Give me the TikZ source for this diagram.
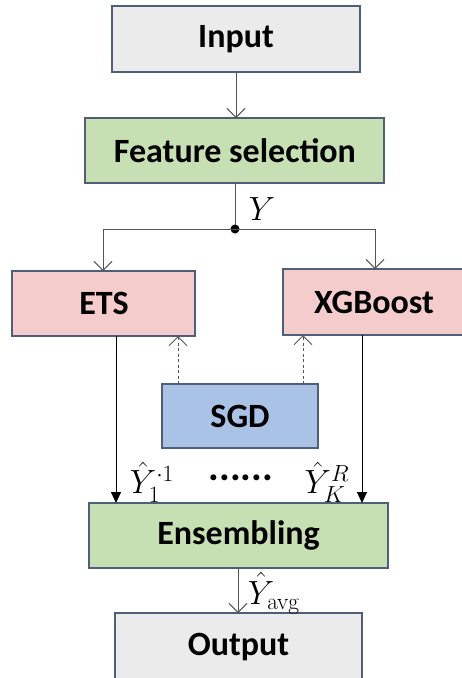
\documentclass[tikz,border=0pt]{standalone}
\usepackage[no-math]{fontspec}
\setmainfont{Carlito}
\usetikzlibrary{arrows.meta}
\definecolor{edge}{HTML}{4F5F7A}
\definecolor{wire}{HTML}{555555}
\definecolor{greyfill}{HTML}{EBEBEB}
\definecolor{greenfill}{HTML}{C6E0B4}
\definecolor{pinkfill}{HTML}{F4CCCC}
\definecolor{bluefill}{HTML}{A9C2E6}
\tikzset{
  block/.style={draw=edge, line width=1.2pt},
  title/.style={font=\fontsize{34}{38}\selectfont\bfseries, inner sep=0pt},
  flow/.style={draw=wire, line width=0.9pt, -{Straight Barb[length=9pt,width=18pt,line width=0.9pt]}},
  feed/.style={draw=black, line width=0.9pt, -{Triangle[length=11pt,width=10pt]}},
  tune/.style={draw=wire, line width=0.9pt, dashed, dash pattern=on 3pt off 2.5pt, -{Straight Barb[length=9pt,width=18pt,line width=0.9pt]}},
  lbl/.style={font=\fontsize{24}{26}\selectfont, inner sep=0pt, scale=1.35}
}
\begin{document}
\begin{tikzpicture}[x=1pt,y=-1pt]
\useasboundingbox (0,0) rectangle (462,678);
% boxes, given by their corners
\path[block, fill=greyfill]  (112,6) rectangle (360,72);
\node[title] (in) at (236,39) {Input};
\path[block, fill=greenfill] (85,118) rectangle (384,183);
\node[title] (fs) at (235,150.5) {Feature selection};
\path[block, fill=pinkfill]  (12,271) rectangle (195,336);
\node[title] (ets) at (104,303.5) {ETS};
\path[block, fill=pinkfill]  (283,269) rectangle (470,335);
\node[title] (xgb) at (374,302) {XGBoost};
\path[block, fill=bluefill]  (162,384) rectangle (318,448);
\node[title] (sgd) at (240,416) {SGD};
\path[block, fill=greenfill] (89,503) rectangle (388,568);
\node[title] (ens) at (238.5,535.5) {Ensembling};
\path[block, fill=greyfill]  (115,613) rectangle (362,690);
\node[title] (out) at (238.5,647) {Output};
% anchor points on the box edges
\coordinate (inB) at (236,72);
\coordinate (fsT) at (236,118);
\coordinate (fsB) at (235,183);
\coordinate (jn) at (235,229);
\coordinate (etsT) at (103,271);
\coordinate (xgbT) at (375,269);
\coordinate (etsB) at (116,336);
\coordinate (xgbB) at (362,335);
\coordinate (etsS) at (178,336);
\coordinate (xgbS) at (303,335);
\coordinate (sgdL) at (178,384);
\coordinate (sgdR) at (303,384);
\coordinate (ensL) at (116,503);
\coordinate (ensR) at (362,503);
\coordinate (ensB) at (238,568);
\coordinate (outT) at (238,613);
% connectors
\draw[flow] (inB) -- (fsT);
\draw[draw=wire, line width=0.9pt] (fsB) -- (jn);
\fill (jn) circle (4.5pt);
\draw[flow] (jn) -| (etsT);
\draw[flow] (jn) -| (xgbT);
\draw[tune] (sgdL) -- (etsS);
\draw[tune] (sgdR) -- (xgbS);
\draw[feed] (etsB) -- (ensL);
\draw[feed] (xgbB) -- (ensR);
\draw[flow] (ensB) -- (outT);
% labels
\node[lbl] (ylab) at (262,209) {$Y$};
\node[lbl] (y1) at (152,482) {$\hat{Y}_1^{\cdot 1}$};
\node[font=\fontsize{40}{42}\selectfont\bfseries, inner sep=0pt] (dots) at (241,478) {......};
\node[lbl] (yk) at (327,482) {$\hat{Y}_K^{R}$};
\node[lbl] (yavg) at (274,593) {$\hat{Y}_{\mathrm{avg}}$};
\end{tikzpicture}
\end{document}
